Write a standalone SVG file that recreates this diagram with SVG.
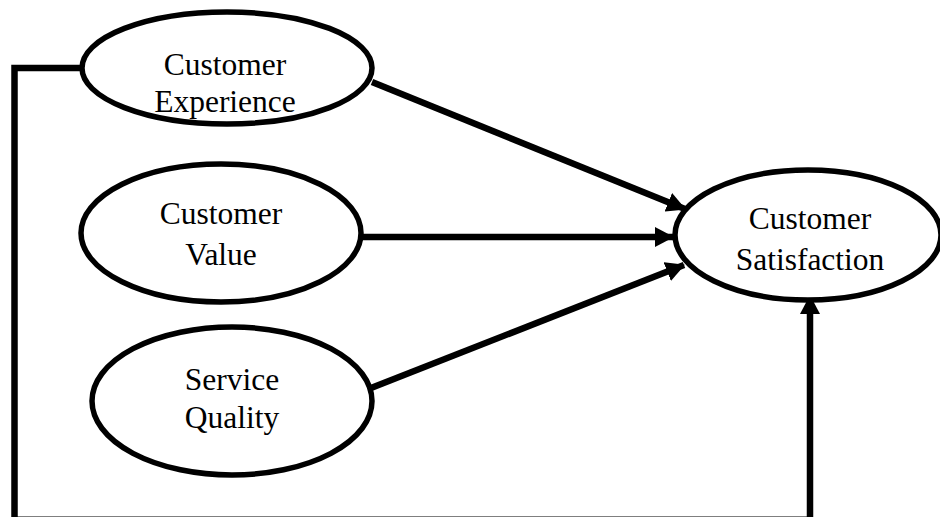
<svg xmlns="http://www.w3.org/2000/svg" width="940" height="517" viewBox="0 0 940 517">
<style>
.node ellipse{fill:#fff;stroke:#000;stroke-width:5.5}
.node text{font-family:"Liberation Serif","Times New Roman",serif;font-size:31.5px;fill:#000;text-anchor:middle}
.conn{fill:none;stroke:#000;stroke-width:6.5}
</style>
<defs>
<marker id="arr" markerWidth="19" markerHeight="20" refX="18" refY="10" orient="auto" markerUnits="userSpaceOnUse">
<path d="M0,0 L19,10 L0,20 Z" fill="#000"/>
</marker>
</defs>
<rect width="940" height="517" fill="#fff"/>
<g id="connectors">
<path class="conn" d="M82,68 H14.5 V519.8 H810"/>
<line class="conn" x1="372" y1="82" x2="685" y2="209" marker-end="url(#arr)"/>
<line class="conn" x1="362" y1="237" x2="673" y2="237" marker-end="url(#arr)"/>
<line class="conn" x1="371" y1="388" x2="684" y2="265" marker-end="url(#arr)"/>
<line class="conn" x1="810" y1="520" x2="810" y2="296" marker-end="url(#arr)"/>
</g>
<g id="customer-experience" class="node">
<ellipse cx="227" cy="68" rx="145" ry="56"/>
<text x="225" y="75">Customer</text>
<text x="225" y="112">Experience</text>
</g>
<g id="customer-value" class="node">
<ellipse cx="221" cy="233" rx="140" ry="69"/>
<text x="221" y="224">Customer</text>
<text x="221" y="265">Value</text>
</g>
<g id="service-quality" class="node">
<ellipse cx="232" cy="401" rx="140" ry="74"/>
<text x="232" y="390">Service</text>
<text x="232" y="428">Quality</text>
</g>
<g id="customer-satisfaction" class="node">
<ellipse cx="808" cy="235" rx="133" ry="65"/>
<text x="810" y="229">Customer</text>
<text x="810" y="270">Satisfaction</text>
</g>
</svg>
